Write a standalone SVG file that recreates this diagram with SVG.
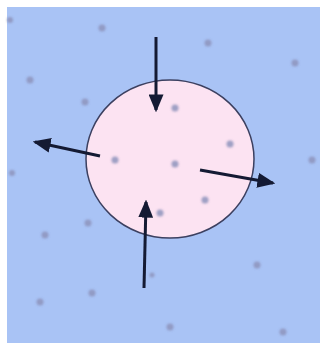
<svg xmlns="http://www.w3.org/2000/svg" width="320" height="343" viewBox="0 0 320 343">
<style>
.dot{fill:#8d93bb;opacity:0.85}
.arr{stroke:#141a33;stroke-width:3;fill:none;marker-end:url(#ah)}
</style>
<defs>
<marker id="ah" markerWidth="6" markerHeight="5" refX="5.2" refY="2.5" orient="auto" markerUnits="strokeWidth">
<path d="M0,0 L6,2.5 L0,5 Z" fill="#141a33"/>
</marker>
<filter id="bl" x="-50%" y="-50%" width="200%" height="200%"><feGaussianBlur stdDeviation="0.8"/></filter>
</defs>
<rect x="0" y="0" width="320" height="343" fill="#ffffff"/>
<rect x="7" y="7" width="313" height="336" fill="#a9c3f5"/>
<g id="cell">
<ellipse cx="170" cy="159" rx="84" ry="79" fill="#fce3f2" stroke="#3c4060" stroke-width="1.5"/>
</g>
<g id="particles" filter="url(#bl)">
<circle class="dot" cx="10" cy="20" r="3"/>
<circle class="dot" cx="102" cy="28" r="3.5"/>
<circle class="dot" cx="208" cy="43" r="3.5"/>
<circle class="dot" cx="295" cy="63" r="3.5"/>
<circle class="dot" cx="30" cy="80" r="3.5"/>
<circle class="dot" cx="85" cy="102" r="3.5"/>
<circle class="dot" cx="175" cy="108" r="3.5"/>
<circle class="dot" cx="230" cy="144" r="3.5"/>
<circle class="dot" cx="115" cy="160" r="3.5"/>
<circle class="dot" cx="175" cy="164" r="3.5"/>
<circle class="dot" cx="312" cy="160" r="3.5"/>
<circle class="dot" cx="12" cy="173" r="3"/>
<circle class="dot" cx="205" cy="200" r="3.5"/>
<circle class="dot" cx="160" cy="213" r="3.5"/>
<circle class="dot" cx="88" cy="223" r="3.5"/>
<circle class="dot" cx="45" cy="235" r="3.5"/>
<circle class="dot" cx="257" cy="265" r="3.5"/>
<circle class="dot" cx="152" cy="275" r="2.5" opacity="0.4"/>
<circle class="dot" cx="92" cy="293" r="3.5"/>
<circle class="dot" cx="40" cy="302" r="3.5"/>
<circle class="dot" cx="170" cy="327" r="3.5"/>
<circle class="dot" cx="283" cy="332" r="3.5"/>
</g>
<g id="connectors">
<line class="arr" x1="156" y1="37" x2="156" y2="110"/>
<line class="arr" x1="100" y1="156" x2="35" y2="142"/>
<line class="arr" x1="200" y1="170" x2="273" y2="183"/>
<line class="arr" x1="144" y1="288" x2="146" y2="202"/>
</g>
</svg>
